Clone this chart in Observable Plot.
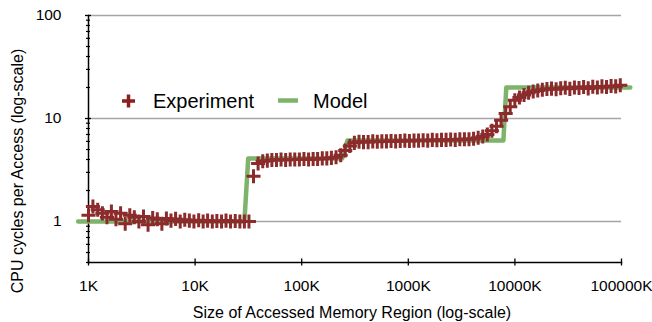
<!DOCTYPE html>
<html>
<head>
<meta charset="utf-8">
<script src="https://cdn.jsdelivr.net/npm/d3@7"></script>
<script src="https://cdn.jsdelivr.net/npm/@observablehq/plot@0.6"></script>
<style>
  body { margin: 0; background: #fff; }
  #chart { position: relative; width: 652px; height: 322px; }
</style>
</head>
<body>
<div id="chart"></div>
<script>
// Accessed region size (KB) of each measurement
const sizesK = [
  1, 1.10, 1.22, 1.35, 1.49, 1.64, 1.81,
  2, 2.21, 2.44, 2.69, 2.97, 3.28, 3.62,
  4, 4.42, 4.88, 5.38, 5.94, 6.56, 7.25,
  8, 8.83, 9.75, 10.8, 11.9, 13.1, 14.5,
  16, 17.7, 19.5, 21.5, 23.8, 26.3, 29.0,
  32, 35.3, 39.0, 43.1, 47.6, 52.5, 58.0,
  64, 70.7, 78.0, 86.1, 95.1, 105, 116,
  128, 141, 156, 172, 190, 210, 232,
  256, 283, 312, 345, 380, 420, 464,
  512, 565, 624, 689, 761, 840, 928,
  1024, 1131, 1248, 1378, 1522, 1680, 1855,
  2048, 2261, 2497, 2757, 3044, 3361, 3711,
  4096, 4523, 4994, 5514, 6088, 6722, 7422,
  8192, 9045, 9987, 11027, 12175, 13443, 14843,
  16384, 18090, 19974, 22054, 24351, 26886, 29686,
  32768, 36180, 39948, 44108, 48701, 53773, 59372,
  65536, 72360, 79896, 88216, 97403
];

// Measured CPU cycles per access
const cyclesMeasured = [
  1.15, 1.4, 1.3, 1.2, 1.1, 1.25, 1.05,
  1.2, 0.95, 1.15, 1.1, 1.0, 1.12, 0.93,
  1.08, 1.05, 0.95, 1.07, 1.02, 1.06, 1.0,
  1.04, 1.02, 1.0, 1.03, 1.0, 1.02, 1.0,
  1.01, 1.0, 1.02, 1.0, 1.01, 1.0, 1.0,
  1.0, 2.75, 3.65, 3.85, 3.9, 3.95, 3.95,
  4.0, 3.95, 4.0, 4.0, 4.0, 4.05, 4.0,
  4.05, 4.05, 4.1, 4.1, 4.15, 4.2,
  4.4, 4.9, 5.4, 5.8, 5.95,
  5.9, 5.9, 6.0, 5.95, 6.0, 6.0, 6.05, 6.0, 6.05, 6.1, 6.05, 6.1,
  6.1, 6.15, 6.1, 6.2, 6.15, 6.2, 6.2, 6.25, 6.2, 6.3, 6.3, 6.3,
  6.35, 6.5, 6.7, 7.0, 7.6, 8.4, 9.6, 11.2, 13.0, 15.0, 16.0,
  16.9, 17.8, 18.3, 18.7, 19.0, 19.3, 19.5, 19.2, 19.7, 19.9, 19.4,
  20.0, 19.8, 20.2, 19.6, 20.3, 20.0, 20.5, 20.2, 20.7, 20.5, 21.0
];

// Cache model: L1 / L2 / L3 / memory latency steps
const modelSizesK = [0.8, 29, 31.5, 240, 268, 7800, 8300, 121000];
const modelCycles = [1, 1, 4.1, 4.1, 6.1, 6.1, 20, 20];

const xTicks = [1, 10, 100, 1000, 10000, 100000];
const xTickLabels = ["1K", "10K", "100K", "1000K", "10000K", "100000K"];
const yTicks = [1, 10, 100];
const yTickLabels = ["1", "10", "100"];
const yMinorTicks = [0.4, 0.5, 0.6, 0.7, 0.8, 0.9,
  2, 3, 4, 5, 6, 7, 8, 9,
  20, 30, 40, 50, 60, 70, 80, 90];

const experiment = sizesK.map((s, i) => ({size: s, cycles: cyclesMeasured[i]}));
const model = modelSizesK.map((s, i) => ({size: s, cycles: modelCycles[i]}));

const red = "#8b2b2b";
const green = "#7db36b";
const font = "'Liberation Sans', Arial, Helvetica, sans-serif";

const plot = Plot.plot({
  width: 652,
  height: 322,
  marginLeft: 88,
  marginRight: 31,
  marginTop: 15,
  marginBottom: 60,
  style: {fontFamily: font, fontSize: "15.5px", color: "#000", background: "#fff", overflow: "visible"},
  x: {type: "log", domain: [1, 100000]},
  y: {type: "log", domain: [0.4, 100]},
  marks: [
    Plot.ruleY(yTicks, {stroke: "#a5a5a5", strokeWidth: 1.3}),
    Plot.axisY({ticks: yMinorTicks, tickSize: 4, dx: 2, tickFormat: () => "", label: null, strokeWidth: 1.2}),
    Plot.axisY({ticks: yTicks, tickSize: 6, dx: 3, tickFormat: () => "", label: null, strokeWidth: 1.3}),
    Plot.axisY({ticks: yTicks, tickSize: 0, tickPadding: 27, label: null,
      tickFormat: d => yTickLabels[yTicks.indexOf(d)]}),
    Plot.axisX({ticks: xTicks, tickSize: 7, dy: -3.5, tickFormat: () => "", label: null, strokeWidth: 1.3}),
    Plot.axisX({ticks: xTicks, tickSize: 0, tickPadding: 17, label: null,
      tickFormat: d => xTickLabels[xTicks.indexOf(d)]}),
    Plot.frame({anchor: "left", strokeWidth: 1.5}),
    Plot.frame({anchor: "bottom", strokeWidth: 1.5}),
    Plot.line(model, {x: "size", y: "cycles", stroke: green, strokeWidth: 4.5, clip: false}),
    Plot.dot(experiment, {x: "size", y: "cycles", symbol: "plus", r: 4.6, stroke: red, strokeWidth: 3})
  ]
});

const svg = d3.select(plot);

// Axis titles
svg.append("text")
  .attr("transform", "translate(23,171) rotate(-90)")
  .attr("text-anchor", "middle")
  .attr("font-family", font).attr("font-size", 16).attr("fill", "#000")
  .text("CPU cycles per Access (log-scale)");
svg.append("text")
  .attr("x", 352).attr("y", 318)
  .attr("text-anchor", "middle")
  .attr("font-family", font).attr("font-size", 16).attr("fill", "#000")
  .text("Size of Accessed Memory Region (log-scale)");

// Legend inside the plot area
const legend = svg.append("g")
  .attr("font-family", font).attr("font-size", 20).attr("fill", "#000")
  .attr("text-anchor", "start");
legend.append("path")
  .attr("d", "M122,101H135M128.5,94.5V107.5")
  .attr("stroke", "#8a1f1f").attr("stroke-width", 3.5).attr("fill", "none");
legend.append("text").attr("x", 153).attr("y", 108).text("Experiment");
legend.append("line")
  .attr("x1", 278).attr("x2", 298).attr("y1", 100.5).attr("y2", 100.5)
  .attr("stroke", green).attr("stroke-width", 4.5);
legend.append("text").attr("x", 313).attr("y", 108).text("Model");

document.getElementById("chart").appendChild(plot);
</script>
</body>
</html>
